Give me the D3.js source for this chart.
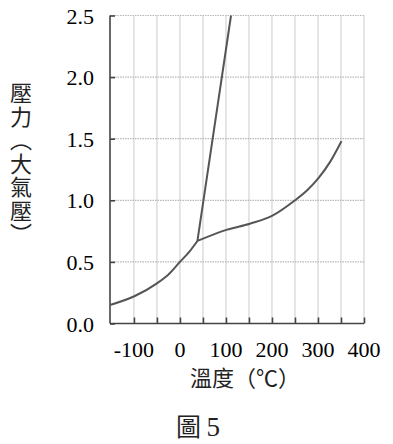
<html>
<head>
<script src="https://d3js.org/d3.v7.min.js"></script>
<style>
  body { margin: 0; background: #fff; }
  .num { font-family: "Liberation Serif", "DejaVu Serif", serif; }
  .cjk { font-family: "Noto Sans CJK TC", "Noto Sans CJK SC", sans-serif; }
</style>
</head>
<body>
<div id="chart"></div>
<script>
// phase diagram: pressure (atm) vs temperature (C)
const xTicks = [-100, 0, 100, 200, 300, 400];
const xGrid = [-100, -50, 0, 50, 100, 150, 200, 250, 300, 350, 400];
const yTicks = [0, 0.5, 1.0, 1.5, 2.0, 2.5];

// solid-gas boundary
const subT = [-152, -98, -50, -26, 0, 22, 38];
const subP = [0.15, 0.223, 0.326, 0.394, 0.50, 0.59, 0.67];
// liquid-gas boundary
const vapT = [38, 101, 152, 200, 250, 276, 301, 326, 351];
const vapP = [0.67, 0.76, 0.81, 0.873, 1.0, 1.08, 1.18, 1.31, 1.48];
// solid-liquid boundary
const meltT = [38, 111];
const meltP = [0.67, 2.5];

const W = 393, H = 444;
const svg = d3.select("#chart").append("svg")
  .attr("width", W).attr("height", H);

const x = d3.scaleLinear().domain([-152, 400]).range([110, 364]);
const y = d3.scaleLinear().domain([0, 2.5]).range([323.5, 15.5]);

// vertical grid (solid light)
svg.append("g").selectAll("line").data(xGrid).enter().append("line")
  .attr("x1", d => x(d)).attr("x2", d => x(d))
  .attr("y1", y(0)).attr("y2", y(2.5))
  .attr("stroke", "#d4d4d4").attr("stroke-width", 1.2);

// horizontal grid (dotted)
svg.append("g").selectAll("line").data(yTicks.slice(1)).enter().append("line")
  .attr("x1", x(-152)).attr("x2", x(400))
  .attr("y1", d => y(d)).attr("y2", d => y(d))
  .attr("stroke", "#b8b8b8").attr("stroke-width", 1.2)
  .attr("stroke-dasharray", "1.5,1");

// axes
const xAxis = svg.append("g")
  .attr("transform", "translate(0," + y(0) + ")")
  .call(d3.axisBottom(x).tickValues(xGrid).tickSize(-6).tickFormat(""));
xAxis.select(".domain").attr("d", "M" + x(-152) + ",0H" + x(400))
  .attr("stroke", "#444").attr("stroke-width", 1.6);
xAxis.selectAll(".tick line").attr("stroke", "#444").attr("stroke-width", 1.6);

const yAxis = svg.append("g")
  .attr("transform", "translate(" + x(-152) + ",0)")
  .call(d3.axisLeft(y).tickValues(yTicks).tickSize(-5).tickFormat(""));
yAxis.select(".domain").attr("d", "M0," + y(0) + "V" + y(2.5))
  .attr("stroke", "#444").attr("stroke-width", 1.6);
yAxis.selectAll(".tick line").attr("stroke", "#444").attr("stroke-width", 1.6);

// tick labels
svg.append("g").selectAll("text").data(xTicks).enter().append("text")
  .attr("class", "num")
  .attr("x", d => x(d)).attr("y", 357)
  .attr("text-anchor", "middle")
  .attr("font-size", 22)
  .text(d => d);

svg.append("g").selectAll("text").data(yTicks).enter().append("text")
  .attr("class", "num")
  .attr("x", 94).attr("y", d => y(d) + 8)
  .attr("text-anchor", "end")
  .attr("font-size", 22)
  .text(d => d.toFixed(1));

// curves
const line = d3.line().x(d => x(d[0])).y(d => y(d[1]));
const drawCurve = (ts, ps, c) => {
  svg.append("path")
    .datum(ts.map((t, i) => [t, ps[i]]))
    .attr("d", line.curve(c))
    .attr("fill", "none").attr("stroke", "#555").attr("stroke-width", 2)
    .attr("stroke-linejoin", "round");
};
drawCurve(subT, subP, d3.curveMonotoneX);
drawCurve(vapT, vapP, d3.curveMonotoneX);
drawCurve(meltT, meltP, d3.curveLinear);

// axis titles
svg.append("text")
  .attr("class", "cjk")
  .attr("x", 21).attr("y", 82)
  .attr("font-size", 22).attr("fill", "#222")
  .style("writing-mode", "vertical-rl")
  .style("text-orientation", "upright")
  .style("letter-spacing", "1.5px")
  .text("壓力（大氣壓）");

svg.append("text")
  .attr("class", "cjk")
  .attr("x", 245).attr("y", 386)
  .attr("text-anchor", "middle")
  .attr("font-size", 22).attr("fill", "#222")
  .text("溫度（℃）");

const cap = svg.append("text")
  .attr("x", 198).attr("y", 436)
  .attr("text-anchor", "middle")
  .attr("fill", "#222");
cap.append("tspan").attr("class", "cjk").attr("font-size", 25).text("圖 ");
cap.append("tspan").attr("class", "num").attr("font-size", 27).text("5");
</script>
</body>
</html>
